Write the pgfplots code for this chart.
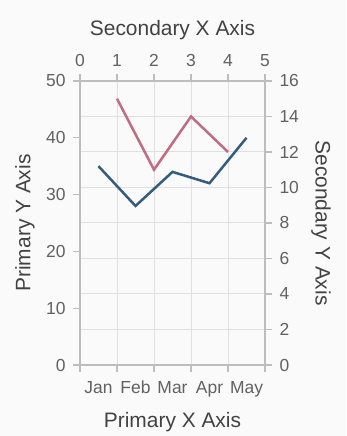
\documentclass[border=0pt]{standalone}
\usepackage{fontspec}
\setmainfont{Liberation Sans}
\usepackage{pgfplots}
\pgfplotsset{compat=1.18}
\definecolor{bg}{HTML}{FAFAFA}
\definecolor{axisgray}{HTML}{BDBDBD}
\definecolor{gridgray}{HTML}{E0E0E0}
\definecolor{txt}{HTML}{424242}
\definecolor{ticktxt}{HTML}{616161}
\definecolor{blueL}{HTML}{355C7D}
\definecolor{pinkL}{HTML}{C06C84}
\begin{document}
\begin{tikzpicture}[x=1bp,y=1bp]
\fill[bg] (0,0) rectangle (346,436);
\pgfplotsset{common/.style={
  at={(80bp,71bp)}, anchor=south west, width=185bp, height=284bp, scale only axis,
  axis line style={axisgray, line width=1.5bp},
  tick style={axisgray, line width=1.2bp},
  tick align=outside, major tick length=7bp,
  ticklabel style={font=\fontsize{17.5}{20}\selectfont, text=ticktxt},
  label style={font=\fontsize{21}{25}\selectfont, text=txt},
  /pgf/number format/assume math mode=true,
}}
% secondary axis: grid, ticks, labels
\begin{axis}[common,
  xmin=0, xmax=5, ymin=0, ymax=16,
  axis x line*=top, axis y line*=right,
  xtick={0,1,2,3,4,5}, ytick={0,2,4,6,8,10,12,14,16},
  xticklabel style={yshift=4bp},
  yticklabel style={xshift=4bp},
  grid=major, major grid style={gridgray, line width=1bp},
  xlabel={Secondary X Axis}, ylabel={Secondary Y Axis},
  xlabel style={at={(axis description cs:0.5,1.18)}, anchor=center},
  ylabel style={at={(axis description cs:1.303,0.5)}, anchor=center, rotate=180},
]
\end{axis}
% primary axis
\begin{axis}[common,
  xmin=0, xmax=5, ymin=0, ymax=50,
  axis x line*=bottom, axis y line*=left,
  xtick={0,1,2,3,4,5}, xticklabels={},
  extra x ticks={0.5,1.5,2.5,3.5,4.5},
  extra x tick labels={Jan,Feb,Mar,Apr,May},
  extra x tick style={grid=none, tick style={draw=none},
    xticklabel style={yshift=-5bp, text height=12.5bp, text depth=3.5bp}},
  ytick={0,10,20,30,40,50},
  yticklabel style={xshift=-4bp},
  xlabel={Primary X Axis}, ylabel={Primary Y Axis},
  xlabel style={at={(axis description cs:0.5,-0.2)}, anchor=center},
  ylabel style={at={(axis description cs:-0.297,0.5)}, anchor=center},
]
\addplot[blueL, line width=2.5bp] table {
x y
0.5 35
1.5 28
2.5 34
3.5 32
4.5 40
};
\end{axis}
% secondary series
\begin{axis}[common, xmin=0, xmax=5, ymin=0, ymax=16, hide axis]
\addplot[pinkL, line width=2.5bp] table {
x y
1 15
2 11
3 14
4 12
};
\end{axis}
\end{tikzpicture}
\end{document}
